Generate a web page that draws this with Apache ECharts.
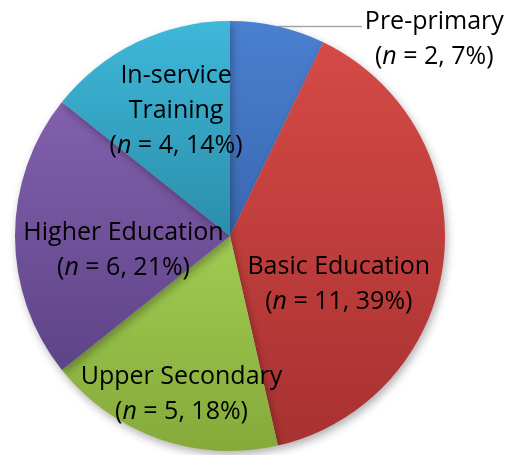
<!DOCTYPE html>
<html lang="en">
<head>
<meta charset="UTF-8" />
<title>Pie</title>
<script src="https://cdn.jsdelivr.net/npm/echarts@6/dist/echarts.min.js"></script>
<style>
  * { margin: 0; padding: 0; }
  body { background: #fff; }
  #chart { width: 510px; height: 455px; }
</style>
</head>
<body>
<div id="chart"></div>
<script>
// data
const categories = ['Pre-primary', 'Basic Education', 'Upper Secondary', 'Higher Education', 'In-service Training'];
const labelNames = [['Pre-primary'], ['Basic Education'], ['Upper Secondary'], ['Higher Education'], ['In-service', 'Training']];
const counts = [2, 11, 5, 6, 4];
const percents = [7, 39, 18, 21, 14];

// slice gradients, top -> bottom
const colorsTop = ['#4a80cf', '#d44a46', '#a0cc52', '#8260ad', '#3fb8da'];
const colorsBottom = ['#3a68b2', '#a83131', '#85aa3a', '#5e4387', '#2a8eaa'];
// nudges from ECharts' inside point to where the reference puts each label
const labelOffsets = [[0, 0], [-1, 36], [-12, 54], [4, 14], [-6, -26]];

const FONT = 'Open Sans';
const rich = {
  t: { fontFamily: FONT, fontSize: 25, color: '#000', lineHeight: 35, align: 'center' },
  i: { fontFamily: FONT, fontSize: 25, color: '#000', lineHeight: 35, fontStyle: 'italic', align: 'center' }
};

const chart = echarts.init(document.getElementById('chart'));

const data = categories.map(function (name, k) {
  const item = {
    name: name,
    value: counts[k],
    itemStyle: {
      color: new echarts.graphic.LinearGradient(0, 0, 0, 1, [
        { offset: 0, color: colorsTop[k] },
        { offset: 1, color: colorsBottom[k] }
      ])
    },
    label: { offset: labelOffsets[k] }
  };
  if (k === 0) {
    item.label = {
      position: 'outside',
      alignTo: 'none',
      bleedMargin: 0,
      overflow: 'none',
      distanceToLabelLine: 3,
      padding: [26, 0, 0, 0]
    };
    item.labelLine = {
      show: true,
      length: 0,
      length2: 84,
      lineStyle: { color: '#a6a6a6', width: 1.5 }
    };
  }
  return item;
});

chart.setOption({
  animation: false,
  series: [{
    type: 'pie',
    center: [230, 236],
    radius: 215,
    startAngle: 90,
    clockwise: true,
    avoidLabelOverlap: false,
    itemStyle: {
      borderWidth: 0,
      shadowBlur: 8,
      shadowOffsetX: 2,
      shadowOffsetY: 4,
      shadowColor: 'rgba(0,0,0,0.3)'
    },
    label: {
      show: true,
      position: 'inside',
      rich: rich,
      formatter: function (p) {
        const k = p.dataIndex;
        const lines = labelNames[k].map(function (s) { return '{t|' + s + '}'; });
        lines.push('{t|(}{i|n}{t| = ' + counts[k] + ', ' + percents[k] + '%)}');
        return lines.join('\n');
      }
    },
    labelLine: { show: false },
    emphasis: { disabled: true },
    data: data
  }]
});
</script>
</body>
</html>
